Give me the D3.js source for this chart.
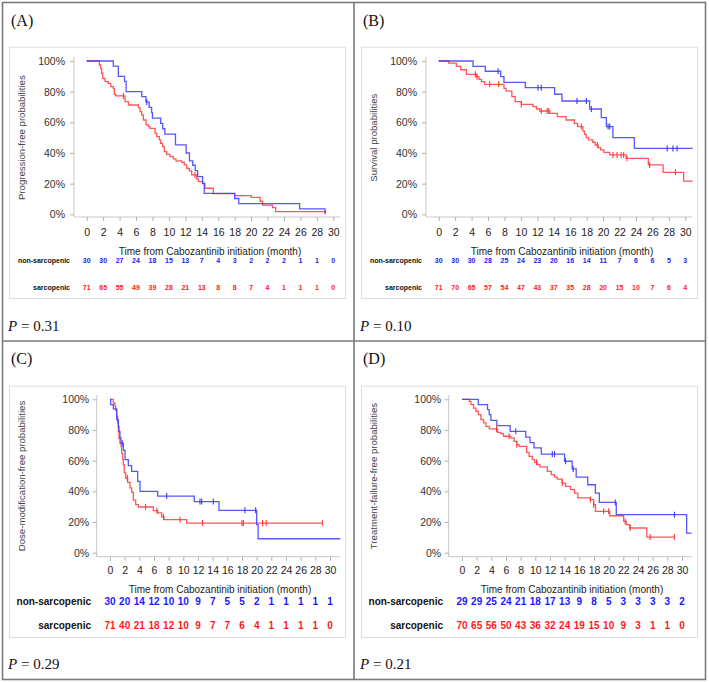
<!DOCTYPE html>
<html><head><meta charset="utf-8">
<script src="https://cdn.jsdelivr.net/npm/d3@7"></script>
<style>body{margin:0;background:#fff} svg{display:block}</style>
</head><body>
<svg id="chart" width="709" height="682"></svg>
<script>
// ---------------- DATA ----------------
const monthTicks = [0,2,4,6,8,10,12,14,16,18,20,22,24,26,28,30];
const pctTicks = [0,20,40,60,80,100];
const panelLetters = ["(A)","(B)","(C)","(D)"];
const yTitles = ["Progression-free probabilities","Survival probabilities","Dose-modification-free probabilities","Treatment-failure-free probabilities"];
const pValues = ["0.31","0.10","0.29","0.21"];
const groupNames = ["non-sarcopenic","sarcopenic"];
const xTitle = "Time from Cabozantinib initiation (month)";

// Kaplan–Meier steps: [month, survival %]
const pfsNon = [[0,100],[3.24,96.7],[3.85,90.0],[4.6,86.7],[4.8,80.0],[6.7,76.7],[7.2,73.3],[7.6,69.8],[7.9,66.3],[8.0,62.8],[9.0,59.3],[9.25,55.8],[9.5,52.3],[10.8,45.3],[12.1,40.0],[12.5,34.8],[12.9,32.0],[13.2,28.5],[13.5,24.6],[14.1,20.0],[14.3,13.6],[18.0,10.3],[18.5,7.0],[25.9,3.5],[29.0,0]];
const pfsSar = [[0,100],[1.54,97.4],[1.70,95.2],[1.82,92.0],[1.95,88.7],[2.23,86.5],[2.63,85.4],[2.92,83.3],[3.24,82.0],[3.36,78.3],[3.53,77.2],[4.66,73.5],[5.07,71.3],[6.28,69.6],[6.49,67.0],[6.69,64.8],[6.89,61.5],[7.22,58.3],[7.50,57.2],[7.70,56.1],[8.31,52.8],[8.51,50.7],[8.84,48.5],[9.00,46.3],[9.24,44.1],[9.44,40.9],[9.73,39.1],[10.13,37.6],[10.54,36.1],[10.86,34.8],[11.55,33.9],[11.88,32.2],[12.16,30.0],[12.48,28.3],[12.77,25.7],[13.38,23.0],[13.58,21.3],[14.11,20.2],[14.39,17.0],[15.4,13.5],[18.0,12.2],[20.0,11.0],[21.1,8.5],[21.4,6.0],[22.6,4.3],[23.0,1.7],[29.0,1.7],[29.05,0.8]];
const pfsNonCens = [7.3];
const pfsSarCens = [4.46,13.17];

const osNon = [[0,100],[4.18,96.5],[5.67,93.3],[7.54,89.8],[7.94,86.1],[10.54,82.6],[14.1,78.3],[15.0,73.9],[18.36,68.7],[19.78,63.0],[20.4,57.2],[21.2,50.0],[23.8,43.0],[30.9,43.0]];
const osSar = [[0,100],[1.22,98.6],[2.15,96.5],[2.68,94.3],[3.36,91.3],[4.6,89.8],[4.9,88.0],[5.2,86.5],[5.6,84.8],[7.94,82.2],[8.2,80.4],[8.9,76.7],[9.3,73.5],[10.05,71.7],[11.47,70.2],[11.9,68.7],[12.3,67.4],[13.5,65.9],[14.43,63.7],[15.5,61.5],[16.5,59.3],[16.9,57.2],[17.55,54.3],[17.75,52.2],[17.95,50.0],[18.24,48.5],[18.75,47.0],[19.05,45.2],[19.4,43.5],[19.7,42.0],[20.1,40.4],[20.8,38.7],[22.8,36.5],[25.5,32.2],[27.3,27.4],[29.8,21.7],[30.9,21.7]];
const osNonCens = [7.22,12.08,12.48,16.82,17.96,18.57,20.6,20.8,27.8,28.5,29.0];
const osSarCens = [4.46,4.66,6.2,7.3,10.05,12.48,13.2,13.4,17.35,19.3,21.2,21.7,22.2,22.5,22.9,25.66,28.8];

const dmNon = [[0,100],[0.09,96.5],[0.45,93.7],[0.91,86.7],[1.14,82.4],[1.23,79.1],[1.36,74.8],[1.5,71.3],[1.82,66.7],[2.05,60.7],[2.5,56.7],[2.95,53.0],[3.77,46.5],[4.09,40.0],[6.5,36.9],[11.5,33.3],[14.86,27.6],[20.0,18.3],[20.2,9.1],[31.4,9.1]];
const dmSar = [[0,100],[0.45,97.6],[0.68,95.4],[0.77,93.0],[0.91,88.7],[1.05,84.6],[1.14,79.0],[1.23,74.6],[1.36,71.3],[1.5,69.1],[1.59,64.8],[1.73,60.7],[1.82,57.4],[1.95,52.0],[2.14,48.7],[2.41,45.9],[2.73,42.2],[2.95,39.3],[3.18,34.3],[3.5,31.3],[3.86,29.8],[5.9,27.4],[6.5,25.9],[7.05,23.3],[7.36,21.5],[10.45,19.3],[28.95,19.3]];
const dmNonCens = [1.68,7.73,12.27,12.5,14.09,18.4,19.86];
const dmSarCens = [2.36,4.85,6.4,7.3,9.55,12.6,18.0,18.2,20.8,21.3,28.95];

const tfNon = [[0,100],[2.22,96.5],[3.48,93.3],[3.71,90.0],[3.94,86.3],[4.75,82.8],[6.56,79.1],[8.69,75.4],[9.28,71.7],[9.82,68.3],[10.81,64.3],[13.98,59.6],[15.02,54.6],[15.57,49.3],[17.15,44.3],[18.19,38.9],[18.73,32.8],[21.04,24.8],[30.63,12.8],[31.31,12.8]];
const tfSar = [[0,100],[1.0,98.7],[1.22,96.5],[1.58,94.3],[1.9,92.2],[2.22,90.0],[2.58,86.7],[2.94,84.6],[3.26,82.4],[3.71,80.7],[4.84,78.5],[5.29,77.6],[5.66,75.9],[6.65,74.8],[7.1,72.6],[7.47,70.4],[7.78,69.3],[8.82,65.4],[9.14,62.8],[9.59,60.7],[9.91,58.9],[10.27,57.4],[10.63,55.9],[11.63,53.0],[12.17,50.9],[12.62,49.3],[12.99,48.0],[13.67,45.4],[14.12,43.3],[14.8,41.1],[15.34,38.9],[15.79,35.7],[17.51,34.6],[17.96,31.3],[18.19,27.0],[20.14,24.1],[22.04,20.4],[22.4,18.3],[22.85,16.1],[25.2,10.2],[28.96,10.2]];
const tfNonCens = [7.33,12.31,12.62,14.12,15.16,20.9,28.96];
const tfSarCens = [4.71,6.43,7.47,10.18,13.67,17.51,17.96,19.32,20.0,22.26,22.94,25.66,28.96];

// numbers at risk
const pfsRiskNon = [30,30,27,24,18,15,13,7,4,3,2,2,2,1,1,0];
const pfsRiskSar = [71,65,55,49,39,28,21,13,8,8,7,4,1,1,1,0];
const osRiskNon = [30,30,30,28,25,24,23,20,16,14,11,7,6,6,5,3];
const osRiskSar = [71,70,65,57,54,47,43,37,35,28,20,15,10,7,6,4];
const dmRiskNon = [30,20,14,12,10,10,9,7,5,5,2,1,1,1,1,1];
const dmRiskSar = [71,40,21,18,12,10,9,7,7,6,4,1,1,1,1,0];
const tfRiskNon = [29,29,25,24,21,18,17,13,9,8,5,3,3,3,3,2];
const tfRiskSar = [70,65,56,50,43,36,32,24,19,15,10,9,3,1,1,0];

// ---------------- LAYOUT ----------------
const topLayout = {box:[9,46.7,345,298], yAxisX:74, x0:86.7, x30:333.3, xEnd:340, y100:61, y0:214.3, yTop:57, axisY:217,
  tickLabelY:232, titleY:251, row1Y:260.7, row2Y:287.7, rowLabelX:70, yTitleX:21.7, letterY:25.5, pY:331, rowFont:7, rowFamily:"'Liberation Sans Narrow','Arial Narrow','Liberation Sans',Arial,sans-serif"};
const botLayout = {box:[9,385.7,345,637], yAxisX:96.7, x0:110, x30:330, xEnd:340, y100:399.3, y0:552.7, yTop:395, axisY:556.7,
  tickLabelY:570.7, titleY:589, row1Y:601, row2Y:625, rowLabelX:91, yTitleX:21.7, letterY:363.5, pY:669, rowFont:10, rowFamily:"'Liberation Sans',Arial,sans-serif"};

const panels = [
  {lay:topLayout, dx:0, non:pfsNon, sar:pfsSar, nonC:pfsNonCens, sarC:pfsSarCens, rn:pfsRiskNon, rs:pfsRiskSar},
  {lay:topLayout, dx:352, non:osNon, sar:osSar, nonC:osNonCens, sarC:osSarCens, rn:osRiskNon, rs:osRiskSar},
  {lay:botLayout, dx:0, non:dmNon, sar:dmSar, nonC:dmNonCens, sarC:dmSarCens, rn:dmRiskNon, rs:dmRiskSar},
  {lay:botLayout, dx:352, non:tfNon, sar:tfSar, nonC:tfNonCens, sarC:tfSarCens, rn:tfRiskNon, rs:tfRiskSar}
];

const BLUE_LINE = "#3a3aff", RED_LINE = "#ff3a3a";
const BLUE_TXT = "#1a1aff", RED_TXT = "#ff1a1a";
const sans = "'Liberation Sans',Arial,sans-serif";
const serif = "'Liberation Serif','Times New Roman',serif";

const svg = d3.select("#chart");

// outer frame
svg.append("rect").attr("x",2.5).attr("y",2.5).attr("width",703).attr("height",677)
  .attr("fill","none").attr("stroke","#7a7a7a").attr("stroke-width",1.6);
svg.append("line").attr("x1",354).attr("x2",354).attr("y1",2.5).attr("y2",679.5).attr("stroke","#7a7a7a").attr("stroke-width",1.6);
svg.append("line").attr("x1",2.5).attr("x2",705.5).attr("y1",341).attr("y2",341).attr("stroke","#7a7a7a").attr("stroke-width",1.6);

function survAt(steps, t){
  let s = steps[0][1];
  for (const [tt, v] of steps){ if (tt <= t + 1e-9) s = v; else break; }
  return s;
}

panels.forEach((p, i) => {
  const L = p.lay;
  const g = svg.append("g").attr("transform", `translate(${p.dx},0)`);

  // inner chart box
  g.append("rect").attr("x",L.box[0]+0.5).attr("y",L.box[1]+0.5)
    .attr("width",L.box[2]-L.box[0]).attr("height",L.box[3]-L.box[1])
    .attr("fill","#fff").attr("stroke","#dedede").attr("stroke-width",1);

  const x = d3.scaleLinear().domain([0,30]).range([L.x0, L.x30]);
  const y = d3.scaleLinear().domain([0,100]).range([L.y0, L.y100]);

  // axis lines
  g.append("line").attr("x1",L.yAxisX).attr("x2",L.yAxisX).attr("y1",L.yTop).attr("y2",L.axisY).attr("stroke","#c8c8c8");
  g.append("line").attr("x1",L.yAxisX).attr("x2",L.xEnd).attr("y1",L.axisY).attr("y2",L.axisY).attr("stroke","#c8c8c8");

  const yAx = g.append("g").attr("transform",`translate(${L.yAxisX},0)`)
    .call(d3.axisLeft(y).tickValues(pctTicks).tickFormat(d => d + "%").tickSize(4).tickPadding(i<2?5:3.5).tickSizeOuter(0));
  yAx.select(".domain").remove();
  yAx.selectAll("line").attr("stroke","#b0b0b0");
  yAx.selectAll("text").attr("fill","#333").style("font-family",sans).style("font-size","10.5px");

  const xAx = g.append("g").attr("transform",`translate(0,${L.axisY})`)
    .call(d3.axisBottom(x).tickValues(monthTicks).tickSize(4).tickPadding(L.tickLabelY - 3.8 - L.axisY - 4).tickSizeOuter(0));
  xAx.select(".domain").remove();
  xAx.selectAll("line").attr("stroke","#b0b0b0");
  xAx.selectAll("text").attr("fill","#222").style("font-family",sans).style("font-size","10.5px");

  // x title
  g.append("text").attr("x",(L.x0+L.x30)/2).attr("y",L.titleY).attr("dy","0.35em")
    .attr("text-anchor","middle").style("font-family",sans).style("font-size","10px").attr("fill","#222").text(xTitle);

  // y title
  g.append("text").attr("transform",`translate(${L.yTitleX},${(L.y0+L.y100)/2}) rotate(-90)`)
    .attr("dy","0.35em").attr("text-anchor","middle").style("font-family",sans).style("font-size","9.6px")
    .attr("fill","#444").text(yTitles[i]);

  // curves
  const line = d3.line().x(d => x(d[0])).y(d => y(d[1])).curve(d3.curveStepAfter);
  g.append("path").datum(p.sar).attr("d",line).attr("fill","none").attr("stroke",RED_LINE).attr("stroke-width",1.3).attr("stroke-opacity",0.85);
  g.append("path").datum(p.non).attr("d",line).attr("fill","none").attr("stroke",BLUE_LINE).attr("stroke-width",1.3).attr("stroke-opacity",0.85);

  // censor marks
  const cens = (arr, steps, col) => g.append("g").selectAll("line").data(arr).join("line")
    .attr("x1",d => x(d)).attr("x2",d => x(d))
    .attr("y1",d => y(survAt(steps,d)) - 3).attr("y2",d => y(survAt(steps,d)) + 3)
    .attr("stroke",col).attr("stroke-width",1.1);
  cens(p.sarC, p.sar, RED_LINE);
  cens(p.nonC, p.non, BLUE_LINE);

  // at-risk table
  const rows = [[p.rn, L.row1Y, BLUE_TXT],[p.rs, L.row2Y, RED_TXT]];
  rows.forEach(([vals, ry, col], k) => {
    g.append("text").attr("x",L.rowLabelX).attr("y",ry).attr("dy","0.35em").attr("text-anchor","end")
      .style("font-family",L.rowFamily).style("font-size",L.rowFont+"px").style("font-weight","bold")
      .attr("fill","#111").text(groupNames[k]);
    g.append("g").selectAll("text").data(vals).join("text")
      .attr("x",(d,j) => x(monthTicks[j])).attr("y",ry).attr("dy","0.35em").attr("text-anchor","middle")
      .style("font-family",L.rowFamily).style("font-size",L.rowFont+"px").style("font-weight","bold")
      .attr("fill",col).text(d => d);
  });

  // panel letter
  g.append("text").attr("x",11).attr("y",L.letterY).style("font-family",serif).style("font-size","16px")
    .attr("fill","#111").text(panelLetters[i]);

  // P value
  const pt = g.append("text").attr("x",8).attr("y",L.pY).style("font-family",serif).style("font-size","15px").attr("fill","#111");
  pt.append("tspan").style("font-style","italic").text("P");
  pt.append("tspan").text(" = " + pValues[i]);
});
</script>
</body></html>
